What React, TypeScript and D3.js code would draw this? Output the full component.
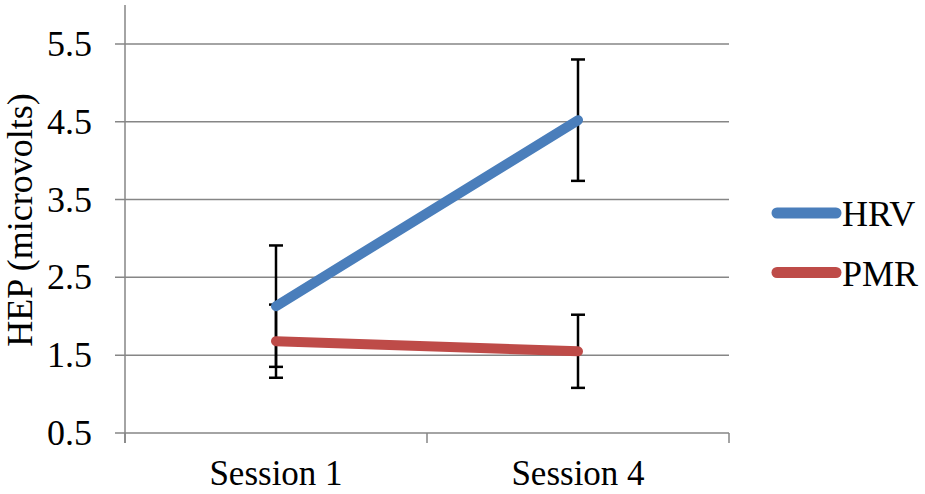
import { useEffect, useRef } from "react"
import * as d3 from "d3"

// categories and series
const sessions = ["Session 1", "Session 4"]
const seriesNames = ["HRV", "PMR"]
const hrvValues = [2.13, 4.52]
const hrvErrors = [0.78, 0.78]
const pmrValues = [1.68, 1.55]
const pmrErrors = [0.47, 0.47]
const yTicks = [0.5, 1.5, 2.5, 3.5, 4.5, 5.5]

const seriesColors = ["#4A7EBB", "#BE4B48"]

export default function App() {
  const svgRef = useRef<SVGSVGElement>(null)

  useEffect(() => {
    if (!svgRef.current) return
    d3.select(svgRef.current).selectAll("*").remove()

    const width = 925
    const height = 494
    const margin = { top: 5, right: 196, bottom: 61, left: 125 }
    const plotW = width - margin.left - margin.right
    const plotH = height - margin.top - margin.bottom

    const svg = d3.select(svgRef.current).attr("width", width).attr("height", height)
    svg.append("rect").attr("width", width).attr("height", height).attr("fill", "#fff")

    const g = svg.append("g").attr("transform", `translate(${margin.left},${margin.top})`)
    const font = "'Liberation Serif', 'Times New Roman', serif"
    const gray = "#868686"

    const x = d3.scaleBand().domain(sessions).range([0, plotW]).padding(0)
    const y = d3.scaleLinear().domain([0.5, 6.0]).range([plotH, 0])

    // Horizontal gridlines with tick marks to the left
    g.append("g")
      .selectAll("line")
      .data(yTicks)
      .enter()
      .append("line")
      .attr("x1", -10)
      .attr("x2", plotW)
      .attr("y1", (d) => y(d))
      .attr("y2", (d) => y(d))
      .attr("stroke", gray)
      .attr("stroke-width", 1.5)

    // Y axis line
    g.append("line")
      .attr("x1", 0)
      .attr("x2", 0)
      .attr("y1", 0)
      .attr("y2", plotH + 10)
      .attr("stroke", gray)
      .attr("stroke-width", 1.5)

    // X axis tick marks at category boundaries
    const boundaries = [0, ...sessions.map((s) => (x(s) || 0) + x.bandwidth())]
    g.append("g")
      .selectAll("line")
      .data(boundaries)
      .enter()
      .append("line")
      .attr("x1", (d) => d)
      .attr("x2", (d) => d)
      .attr("y1", plotH)
      .attr("y2", plotH + 10)
      .attr("stroke", gray)
      .attr("stroke-width", 1.5)

    // Y tick labels
    g.append("g")
      .selectAll("text")
      .data(yTicks)
      .enter()
      .append("text")
      .attr("x", -33)
      .attr("y", (d) => y(d) + 12)
      .attr("text-anchor", "end")
      .style("font-family", font)
      .style("font-size", "36px")
      .text((d) => d.toFixed(1))

    // X category labels
    g.append("g")
      .selectAll("text")
      .data(sessions)
      .enter()
      .append("text")
      .attr("x", (d) => (x(d) || 0) + x.bandwidth() / 2)
      .attr("y", plotH + 52)
      .attr("text-anchor", "middle")
      .style("font-family", font)
      .style("font-size", "35px")
      .text((d) => d)

    // Y axis title
    svg
      .append("text")
      .attr("transform", `translate(32,220) rotate(-90)`)
      .attr("text-anchor", "middle")
      .style("font-family", font)
      .style("font-size", "36px")
      .text("HEP (microvolts)")

    const cx = (s: string) => (x(s) || 0) + x.bandwidth() / 2
    const seriesData = [
      { name: seriesNames[0], values: hrvValues, errors: hrvErrors },
      { name: seriesNames[1], values: pmrValues, errors: pmrErrors },
    ]

    // Error bars (drawn under the lines)
    seriesData.forEach((s) => {
      const eg = g.append("g")
      sessions.forEach((sess, i) => {
        const px = cx(sess)
        const hi = y(s.values[i] + s.errors[i])
        const lo = y(s.values[i] - s.errors[i])
        eg.append("line").attr("x1", px).attr("x2", px).attr("y1", hi).attr("y2", lo)
          .attr("stroke", "#000").attr("stroke-width", 2.5)
        ;[hi, lo].forEach((yy) => {
          eg.append("line").attr("x1", px - 7).attr("x2", px + 7).attr("y1", yy).attr("y2", yy)
            .attr("stroke", "#000").attr("stroke-width", 2.5)
        })
      })
    })

    // Series lines
    const line = d3
      .line<number>()
      .x((_, i) => cx(sessions[i]))
      .y((d) => y(d))

    seriesData.forEach((s, si) => {
      g.append("path")
        .datum(s.values)
        .attr("d", line)
        .attr("fill", "none")
        .attr("stroke", seriesColors[si])
        .attr("stroke-width", 10)
        .attr("stroke-linecap", "round")
    })

    // Legend
    const legend = svg.append("g").attr("transform", "translate(777,213)")
    seriesNames.forEach((name, i) => {
      const row = legend.append("g").attr("transform", `translate(0,${i * 59.5})`)
      row.append("line")
        .attr("x1", 0)
        .attr("x2", 59)
        .attr("y1", 0)
        .attr("y2", 0)
        .attr("stroke", seriesColors[i])
        .attr("stroke-width", 11)
        .attr("stroke-linecap", "round")
      row.append("text")
        .attr("x", 65)
        .attr("y", 13)
        .style("font-family", font)
        .style("font-size", "36px")
        .text(name)
    })
  }, [])

  return (
    <div style={{ position: "absolute", left: 0, top: 0 }}>
      <svg ref={svgRef}></svg>
    </div>
  )
}
